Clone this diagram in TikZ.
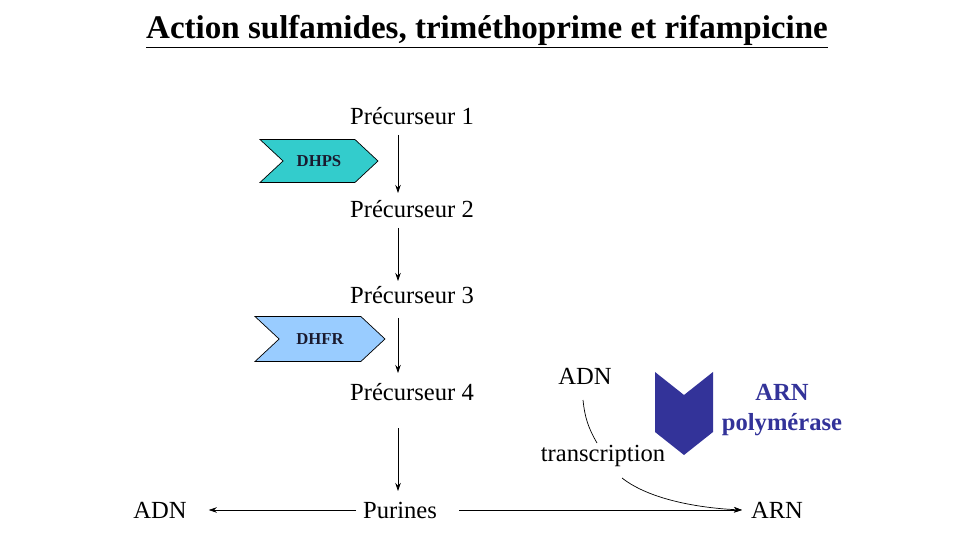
\documentclass[tikz,border=0pt]{standalone}
\usepackage{fontspec}
\setmainfont{Liberation Serif}
\usepackage{tikz}
\usetikzlibrary{shapes.symbols, arrows.meta, positioning}
\definecolor{dhps}{HTML}{33CCCC}
\definecolor{dhfr}{HTML}{99CCFF}
\definecolor{polym}{HTML}{333399}
\definecolor{enztext}{HTML}{1A1A2E}

\begin{document}
\begin{tikzpicture}[x=0.02cm, y=-0.02cm,
    label/.style={inner sep=1pt, font=\fontsize{14}{16}\selectfont},
    enzyme/.style={signal, signal to=east, signal from=west, signal pointer angle=86, draw=black, line width=0.4pt, inner sep=0pt, font=\fontsize{9.5}{11}\selectfont\bfseries, text=enztext},
    arr/.style={-{Stealth[length=1.6mm, width=1.1mm]}, line width=0.4pt},
]
    \useasboundingbox (0,0) rectangle (960,540);
    % titre
    \node[font=\fontsize{18.8}{22}\selectfont\bfseries] (titre) at (487,32) {\underline{Action sulfamides, triméthoprime et rifampicine}};
    % voie des folates
    \node[label] (p1) at (412,116) {Précurseur 1};
    \node[label] (p2) at (412,209) {Précurseur 2};
    \node[label] (p3) at (412,295) {Précurseur 3};
    \node[label] (p4) at (412,392) {Précurseur 4};
    \node[label] (purines) at (400,510) {Purines};
    \node[label] (adnbas) at (160,510) {ADN};
    \node[label] (arnbas) at (777,510) {ARN};
    \node[enzyme, fill=dhps, minimum width=2.36cm, minimum height=0.86cm] (dhps) at (319,161) {DHPS};
    \node[enzyme, fill=dhfr, minimum width=2.6cm, minimum height=0.9cm] (dhfr) at (320,339) {DHFR};
    \draw[arr] (398,135) -- (398,193);
    \draw[arr] (398,228) -- (398,281);
    \draw[arr] (398,318) -- (398,373);
    \draw[arr] (398,428) -- (398,491);
    \draw[arr, shorten <=0.1cm, shorten >=0.4cm] (purines.west) -- (adnbas.east);
    \draw[arr, shorten <=0.4cm, shorten >=0.14cm] (purines.east) -- (arnbas.west);
    % transcription
    \node[label] (adnhaut) at (585,376) {ADN};
    \node[label] (transcr) at (603,456) {transcription};
    \fill[polym] (655,372) -- (684,395) -- (713,372) -- (713,432) -- (684,455) -- (655,432) -- cycle;
    \node[align=center, font=\fontsize{14}{17}\selectfont\bfseries, text=polym] (nompol) at (782,410) {ARN\\polymérase};
    \draw[line width=0.4pt] (583,400) to[bend right=12] (597,443);
    \draw[arr] (622,478) .. controls (650,500) and (700,508) .. ([xshift=-0.14cm]arnbas.west);
\end{tikzpicture}
\end{document}
